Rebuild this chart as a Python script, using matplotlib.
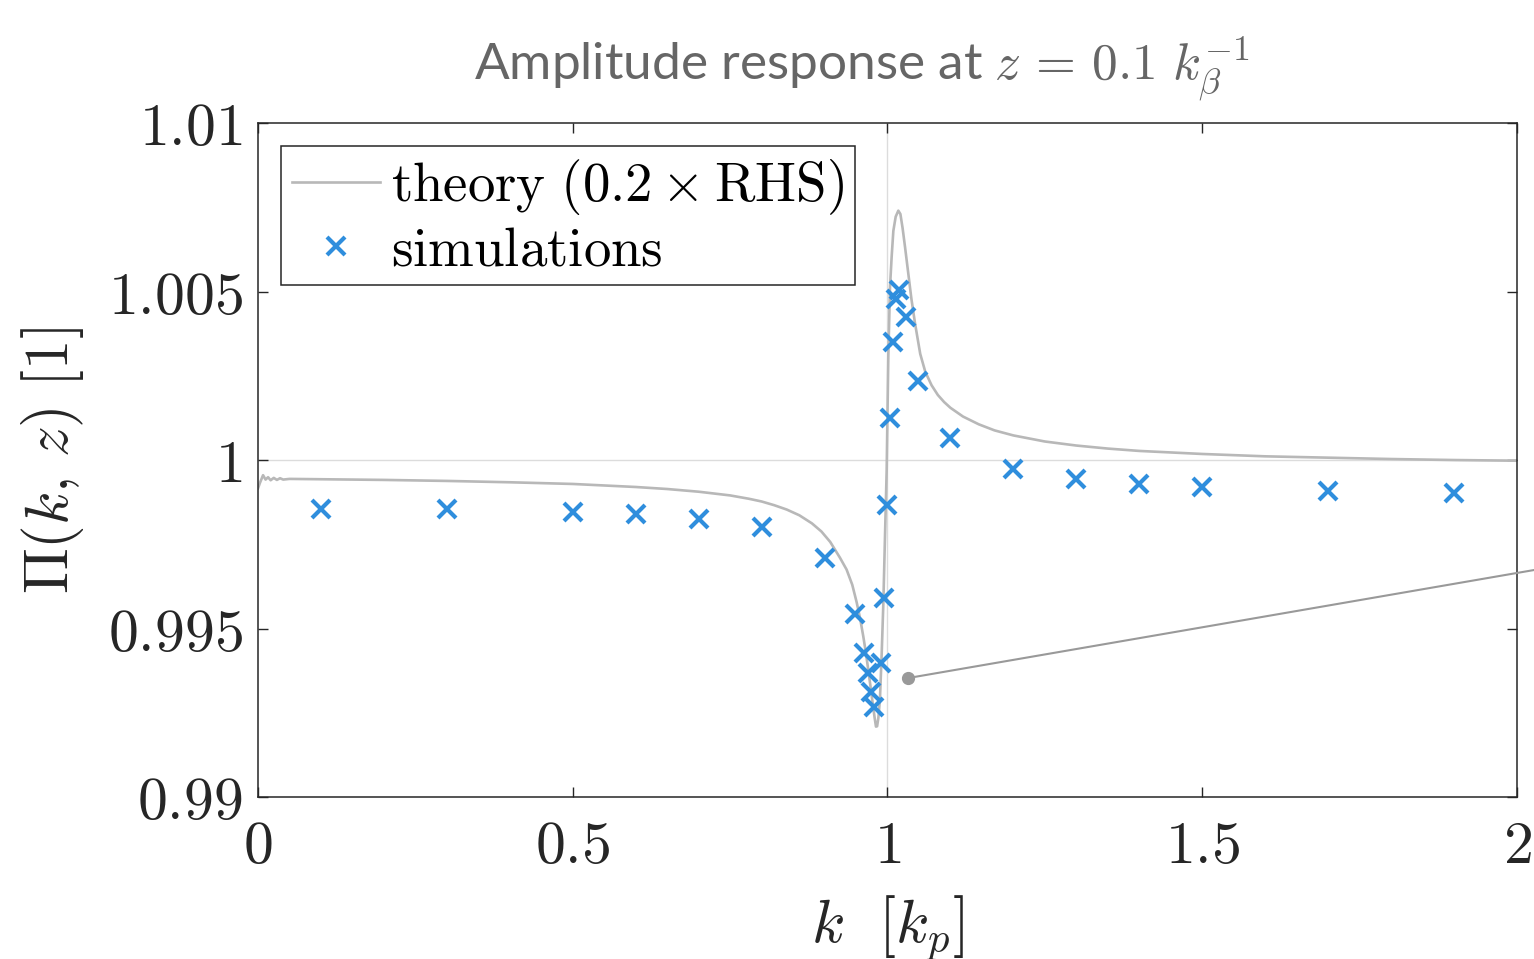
import numpy as np
import matplotlib
matplotlib.use('Agg')
import matplotlib.pyplot as plt
from matplotlib.patches import ConnectionPatch

plt.rcParams['mathtext.fontset'] = 'cm'
plt.rcParams['font.family'] = ['Lato', 'DejaVu Sans']

# ── data ───────────────────────────────────────────────────────────────
theory_k = [0.000, 0.003, 0.008, 0.012, 0.016, 0.020, 0.025, 0.030, 0.035, 0.040,
            0.050, 0.100, 0.200, 0.300, 0.400, 0.500, 0.600, 0.650, 0.700, 0.750,
            0.780, 0.800, 0.820, 0.840, 0.860, 0.880, 0.895, 0.909, 0.9245, 0.935,
            0.944, 0.951, 0.9565, 0.9616, 0.9655, 0.9695, 0.973, 0.9765, 0.9795, 0.9817,
            0.9835, 0.9855, 0.988, 0.9908, 0.9934, 0.996, 0.9987, 1.0013, 1.004, 1.0066,
            1.0093, 1.013, 1.0172, 1.0205, 1.0240, 1.0278, 1.033, 1.038, 1.0437, 1.052,
            1.060, 1.070, 1.080, 1.090, 1.100, 1.120, 1.145, 1.170, 1.200, 1.250,
            1.300, 1.350, 1.400, 1.500, 1.600, 1.700, 1.800, 1.900, 2.000]
theory_pi = [0.99916, 0.99932, 0.99955, 0.99942, 0.99949, 0.99940, 0.99947, 0.99941, 0.99946, 0.99942,
             0.99944, 0.99943, 0.99941, 0.99938, 0.99934, 0.99929, 0.99920, 0.99914, 0.99906, 0.99895,
             0.99885, 0.99877, 0.99866, 0.99853, 0.99836, 0.99812, 0.99788, 0.99757, 0.99710, 0.99675,
             0.99630, 0.99578, 0.99530, 0.99476, 0.99430, 0.99377, 0.99328, 0.99278, 0.99236, 0.99209,
             0.99210, 0.99235, 0.99290, 0.99426, 0.99575, 0.99772, 0.99970, 1.00307, 1.00514, 1.00603,
             1.00680, 1.00722, 1.00740, 1.00730, 1.00688, 1.00633, 1.00554, 1.00478, 1.00406, 1.00315,
             1.00262, 1.00222, 1.00193, 1.00172, 1.00155, 1.00129, 1.00106, 1.00088, 1.00073, 1.00055,
             1.00043, 1.00034, 1.00027, 1.00018, 1.00011, 1.00007, 1.00003, 1.00000, 0.99998]

sim_k = [0.1, 0.3, 0.5, 0.6, 0.7, 0.8, 0.9, 0.949, 0.963, 0.969, 0.9738, 0.9785,
         0.9897, 0.9944, 1.0, 1.004, 1.0093, 1.0135, 1.0187, 1.0294, 1.049,
         1.1, 1.2, 1.3, 1.4, 1.5, 1.7, 1.9]
sim_pi = [0.99855, 0.99855, 0.99846, 0.99840, 0.99825, 0.99801, 0.99709, 0.99543, 0.99428,
          0.99367, 0.99312, 0.99268, 0.99397, 0.99591, 0.99866, 1.00126, 1.00351, 1.00477,
          1.00506, 1.00423, 1.00234, 1.00066, 0.99972, 0.99944, 0.99928, 0.99921, 0.99909,
          0.99901]

marker_k, marker_pi = 1.0326, 0.99353

xticks = [0, 0.5, 1, 1.5, 2]
xticklabels = ['$0$', '$0.5$', '$1$', '$1.5$', '$2$']
yticks = [0.99, 0.995, 1.0, 1.005, 1.01]
yticklabels = ['$0.99$', '$0.995$', '$1$', '$1.005$', '$1.01$']

# ── figure ─────────────────────────────────────────────────────────────
fig = plt.figure(figsize=(15.34, 9.59), dpi=100)
ax = fig.add_axes([0.1682, 0.1689, 0.8207, 0.7028])

ax.axvline(1, color='#dcdcdc', lw=1.0, zorder=0)
ax.axhline(1, color='#dcdcdc', lw=1.0, zorder=0)

ax.plot(theory_k, theory_pi, color='#b8b8b8', lw=1.9, zorder=2,
        label=r'$\mathrm{theory}\ (0.2\times\mathrm{RHS})$')
ax.plot(sim_k, sim_pi, 'x', color='#2f8edd', ms=13, mew=3.0, zorder=3,
        label=r'$\mathrm{simulations}$')

ax.plot([marker_k], [marker_pi], 'o', color='#999999', ms=8.5, zorder=4)
con = ConnectionPatch(xyA=(marker_k, marker_pi), coordsA='data', axesA=ax,
                      xyB=(1.0, 0.4056), coordsB='figure fraction',
                      color='#999999', lw=1.5, zorder=4)
fig.add_artist(con)

ax.set_xlim(0, 2)
ax.set_ylim(0.99, 1.01)
ax.set_xticks(xticks)
ax.set_xticklabels(xticklabels)
ax.set_yticks(yticks)
ax.set_yticklabels(yticklabels)
ax.tick_params(direction='in', length=7, width=1.0, colors='#262626',
               labelsize=43, top=True, right=True)
ax.tick_params(axis='x', pad=16)
ax.tick_params(axis='y', pad=11)
for s in ax.spines.values():
    s.set_color('#262626')
    s.set_linewidth(1.1)

ax.set_xlabel(r'$k\ \ [k_p]$', fontsize=44, color='#262626', labelpad=14)
ax.set_ylabel(r'$\Pi(k,\, z)\ [1]$', fontsize=44, color='#262626', labelpad=16)
ax.set_title(r'Amplitude response at $z\,=\,0.1\ k_\beta^{-1}$', fontsize=37,
             color='#666666', pad=30, x=0.48)

leg = ax.legend(loc='upper left', bbox_to_anchor=(0.0183, 0.966), borderaxespad=0,
                fontsize=39.5, frameon=True, fancybox=False, framealpha=1,
                handlelength=1.6, handletextpad=0.2, borderpad=0.2,
                labelspacing=0.15)
leg.get_frame().set_edgecolor('#262626')
leg.get_frame().set_linewidth(1.1)

fig.savefig('out.png', dpi=100)
